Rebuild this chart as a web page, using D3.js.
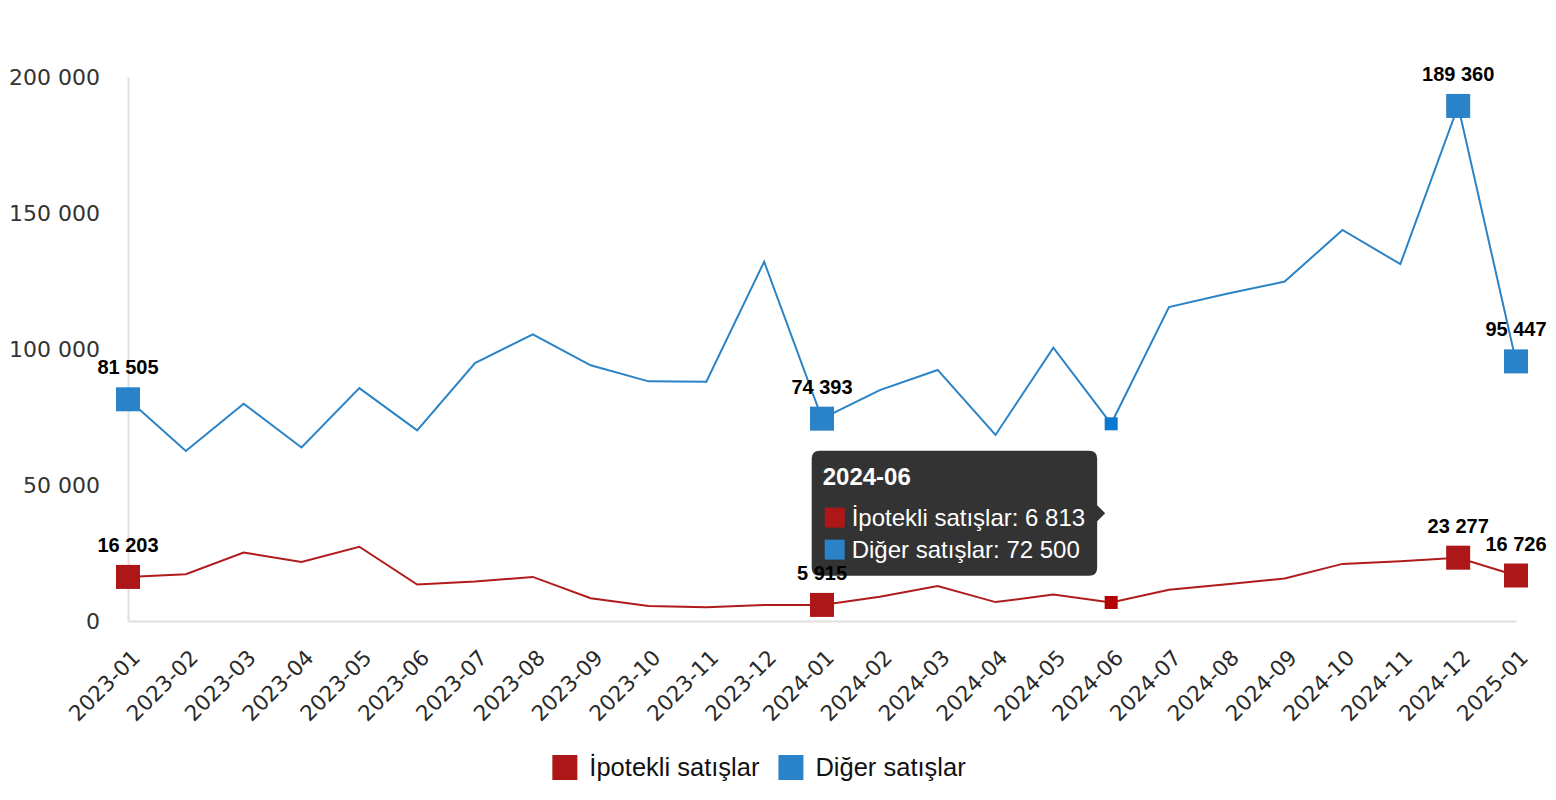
<!DOCTYPE html>
<html>
<head>
<meta charset="utf-8">
<script src="https://cdn.jsdelivr.net/npm/d3@7"></script>
<style>
  body { margin: 0; background: #fff; }
  svg { display: block; }
</style>
</head>
<body>
<div id="chart"></div>
<script>
const months = ["2023-01", "2023-02", "2023-03", "2023-04", "2023-05", "2023-06", "2023-07", "2023-08",
    "2023-09", "2023-10", "2023-11", "2023-12", "2024-01", "2024-02", "2024-03", "2024-04", "2024-05",
    "2024-06", "2024-07", "2024-08", "2024-09", "2024-10", "2024-11", "2024-12", "2025-01"];
const ipotekli = [16203, 17200, 25200, 21700, 27300, 13400, 14500, 16200, 8400, 5500, 5100, 5900,
    5915, 8900, 12900, 6950, 9700, 6813, 11500, 13500, 15600, 21000, 22000, 23277, 16726];
const diger = [81505, 62500, 79900, 63800, 85600, 70100, 94800, 105400, 94000, 88100, 88000, 132100,
    74393, 84900, 92300, 68400, 100500, 72500, 115400, 120300, 124800, 143750, 131200, 189360, 95447];
const yTicks = [0, 50000, 100000, 150000, 200000];
const labeledMonths = ["2023-01", "2024-01", "2024-12", "2025-01"];
const hoverMonth = "2024-06";

const seriesNames = ["İpotekli satışlar", "Diğer satışlar"];
const lineColours = ["#b01b1c", "#2a83c6"];
const markerColours = ["#ae1718", "#2a82c8"];
const hoverColours = ["#b30202", "#0b79d0"];

const width = 1556;
const height = 800;

const fmt = d3.formatLocale({ decimal: ",", thousands: " ", grouping: [3], currency: ["", ""] }).format(",d");

const series = [ipotekli, diger].map((vals, i) => ({
    name: seriesNames[i],
    values: vals.map((v, j) => ({ month: months[j], value: v }))
}));

const svg = d3.select("#chart").append("svg")
    .attr("width", width)
    .attr("height", height)

const x = d3.scalePoint().domain(months).range([128, 1516])
const y = d3.scaleLinear().domain([0, 200000]).range([621, 77])

// axes
const yAxis = svg.append("g")
    .attr("transform", "translate(128,0)")
    .call(d3.axisLeft(y).tickValues(yTicks).tickSize(0).tickPadding(28).tickFormat(fmt))
yAxis.select(".domain").attr("stroke", "#e0e0e0").attr("stroke-width", 2)
yAxis.selectAll("text")
    .attr("font-family", "DejaVu Sans")
    .attr("font-size", 22)
    .attr("fill", "#333")

const xAxis = svg.append("g")
    .attr("transform", "translate(0,621)")
    .call(d3.axisBottom(x).tickSize(0).tickPadding(0))
xAxis.select(".domain").attr("stroke", "#e0e0e0").attr("stroke-width", 2)
xAxis.selectAll("text")
    .attr("font-family", "DejaVu Sans")
    .attr("font-size", 21.5)
    .attr("fill", "#2a2a2a")
    .attr("text-anchor", "end")
    .attr("dy", null)
    .attr("y", null)
    .attr("transform", "translate(13,38) rotate(-45)")

// lines
const line = d3.line().x(d => x(d.month)).y(d => y(d.value))

svg.append("g")
    .selectAll("path")
    .data(series)
    .join("path")
    .attr("d", d => line(d.values))
    .attr("fill", "none")
    .attr("stroke", (d, i) => lineColours[i])
    .attr("stroke-width", 2)

// tooltip for the hovered month (drawn under the value labels)
const hx = x(hoverMonth)
const hIdx = months.indexOf(hoverMonth)
const tipY = (y(ipotekli[hIdx]) + y(diger[hIdx])) / 2
const tipRight = hx - 14
const tip = svg.append("g")
const tipBox = tip.append("path").attr("fill", "#333333")
const tipText = tip.append("g")
tipText.append("text")
    .attr("x", 11)
    .attr("y", 34)
    .attr("font-family", "Liberation Sans, Arial, sans-serif")
    .attr("font-weight", "bold")
    .attr("font-size", 24)
    .attr("fill", "#fff")
    .text(hoverMonth)
const rows = tipText.selectAll("g.row")
    .data(series)
    .join("g")
    .attr("class", "row")
    .attr("transform", (d, i) => `translate(13,${57 + i * 32})`)
rows.append("rect")
    .attr("width", 20)
    .attr("height", 20)
    .attr("fill", (d, i) => markerColours[i])
rows.append("text")
    .attr("x", 27)
    .attr("y", 18)
    .attr("font-family", "Liberation Sans, Arial, sans-serif")
    .attr("font-size", 24)
    .attr("fill", "#fff")
    .text(d => `${d.name}: ${fmt(d.values[hIdx].value)}`)

let tipW = 0
rows.select("text").each(function () {
    tipW = Math.max(tipW, 13 + 27 + this.getComputedTextLength())
})
tipW += 12
const tipH = 125
const r = 8
tip.attr("transform", `translate(${tipRight - tipW},${tipY - tipH / 2})`)
tipBox.attr("d", `M${r},0 H${tipW - r} Q${tipW},0 ${tipW},${r} V${tipH / 2 - 8} L${tipW + 8},${tipH / 2} L${tipW},${tipH / 2 + 8} V${tipH - r} Q${tipW},${tipH} ${tipW - r},${tipH} H${r} Q0,${tipH} 0,${tipH - r} V${r} Q0,0 ${r},0 Z`)

// markers and value labels
series.forEach((s, i) => {
    const g = svg.append("g")
    const big = s.values.filter(d => labeledMonths.includes(d.month))
    g.selectAll("rect.big")
        .data(big)
        .join("rect")
        .attr("class", "big")
        .attr("x", d => x(d.month) - 12)
        .attr("y", d => y(d.value) - 12)
        .attr("width", 24)
        .attr("height", 24)
        .attr("fill", markerColours[i])
    g.selectAll("text")
        .data(big)
        .join("text")
        .attr("x", d => x(d.month))
        .attr("y", d => y(d.value) - 25)
        .attr("text-anchor", "middle")
        .attr("font-family", "Liberation Sans, Arial, sans-serif")
        .attr("font-weight", "bold")
        .attr("font-size", 20)
        .attr("fill", "#000")
        .text(d => fmt(d.value))
    const hov = s.values.filter(d => d.month === hoverMonth)
    g.selectAll("rect.hover")
        .data(hov)
        .join("rect")
        .attr("class", "hover")
        .attr("x", d => x(d.month) - 6.5)
        .attr("y", d => y(d.value) - 6.5)
        .attr("width", 13)
        .attr("height", 13)
        .attr("fill", hoverColours[i])
})

// legend
const legend = svg.append("g")
let lx = 0
const items = legend.selectAll("g")
    .data(series)
    .join("g")
items.append("rect")
    .attr("width", 25)
    .attr("height", 25)
    .attr("fill", (d, i) => markerColours[i])
items.append("text")
    .attr("x", 37)
    .attr("y", 21)
    .attr("font-family", "Liberation Sans, Arial, sans-serif")
    .attr("font-size", 25.5)
    .attr("fill", "#111")
    .text(d => d.name)
items.each(function () {
    d3.select(this).attr("transform", `translate(${lx},0)`)
    lx += 37 + d3.select(this).select("text").node().getComputedTextLength() + 19
})
const legendW = lx - 19
legend.attr("transform", `translate(${759 - legendW / 2},755)`)
</script>
</body>
</html>
